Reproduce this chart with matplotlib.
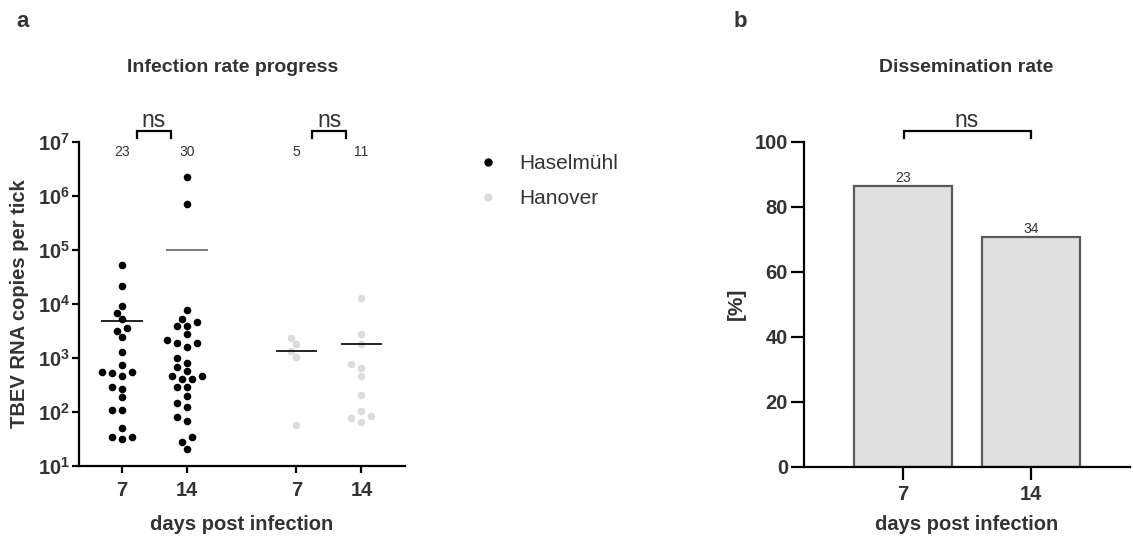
import numpy as np
import matplotlib
matplotlib.use("Agg")
import matplotlib.pyplot as plt
from matplotlib.lines import Line2D
from matplotlib.ticker import FuncFormatter, NullLocator

plt.rcParams["font.family"] = "Liberation Sans"
plt.rcParams["mathtext.fontset"] = "custom"
plt.rcParams["mathtext.rm"] = "Liberation Sans"
plt.rcParams["mathtext.bf"] = "Liberation Sans:bold"

# --- data ---
day_labels = ["7", "14", "7", "14"]
groups = ["Haselmühl", "Hanover"]

hasel_d7 = [53000, 21000, 9100, 6900, 5300, 3500, 3200, 2400, 1260, 740,
            540, 540, 520, 465, 295, 265, 187, 110, 110, 50, 35, 35, 32]
hasel_d14 = [2200000, 710000, 7600, 5200, 4600, 3900, 3900, 2800, 2100, 1900,
             1900, 1580, 1000, 800, 675, 575, 465, 465, 405, 405, 295, 295,
             197, 145, 122, 82, 68, 35, 28, 21]
hanover_d7 = [2300, 1800, 1370, 1050, 57]
hanover_d14 = [13000, 2800, 1800, 780, 650, 465, 205, 105, 84, 76, 66]
n_tested = [23, 30, 5, 11]

dissem_days = ["7", "14"]
dissem_rate = [86.4, 70.7]
dissem_n = [23, 34]

TXT = "#333333"
BLACK_DOT = "#000000"
GREY_DOT = "#dcdcdc"
TICK_FS = 14.5
LABEL_FS = 14.5

fig = plt.figure(figsize=(11.33, 5.41), dpi=100)
W, H = 1133, 541


def px_axes(x0, y0, x1, y1):
    return fig.add_axes([x0 / W, 1 - y1 / H, (x1 - x0) / W, (y1 - y0) / H])


def swarm(ax, x0, vals, diam=7.6, step=5.0):
    vals = np.asarray(vals, dtype=float)
    pix = ax.transData.transform(np.column_stack([np.full(len(vals), x0), vals]))
    xc = pix[0, 0]
    ys = pix[:, 1]
    unit = ax.transData.transform((x0 + 1, vals[0]))[0] - xc
    cands = [0.0]
    for k in range(1, 15):
        cands += [-k * step, k * step]
    placed = []
    offs = np.zeros(len(vals))
    for i in np.argsort(ys):
        for c in cands:
            if all((c - px) ** 2 + (ys[i] - py) ** 2 >= diam ** 2 for px, py in placed):
                break
        placed.append((c, ys[i]))
        offs[i] = c
    return x0 + offs / unit


def style_axes(ax, ticklen):
    for s in ["top", "right"]:
        ax.spines[s].set_visible(False)
    for s in ["left", "bottom"]:
        ax.spines[s].set_linewidth(1.6)
    ax.tick_params(length=ticklen, width=1.6, labelsize=TICK_FS, labelcolor=TXT)
    for lab in ax.get_xticklabels() + ax.get_yticklabels():
        lab.set_fontweight("bold")


# ---------------- panel a ----------------
ax = px_axes(79, 141.7, 405, 466)
pos = [1, 2, 3.68, 4.68]
ax.set_xlim(0.34, 5.35)
ax.set_yscale("log")
ax.set_ylim(10, 1e7)
ax.set_yticks([10 ** k for k in range(1, 8)])
ax.yaxis.set_minor_locator(NullLocator())
ax.yaxis.set_major_formatter(FuncFormatter(lambda v, p: r"$\mathbf{10^{%d}}$" % round(np.log10(v))))
ax.set_xticks(pos)
ax.set_xticklabels(day_labels)
style_axes(ax, 5)
ax.tick_params(axis="y", pad=1.5)
ax.tick_params(axis="x", pad=6)

series = [hasel_d7, hasel_d14, hanover_d7, hanover_d14]
colors = [BLACK_DOT, BLACK_DOT, GREY_DOT, GREY_DOT]
mean_colors = ["black", "#666666", "black", "black"]
for x, vals, c, mc in zip(pos, series, colors, mean_colors):
    xs = swarm(ax, x, vals)
    ax.scatter(xs, vals, s=30, color=c, linewidths=0, zorder=3, clip_on=False)
    ax.hlines(np.mean(vals), x - 0.32, x + 0.32, color=mc, lw=1.2, zorder=4)

tr = ax.get_xaxis_transform()
for x, n in zip(pos, n_tested):
    ax.text(x, 0.968, str(n), transform=tr, ha="center", va="center", fontsize=10, color=TXT)

for xa, xb in [(1.23, 1.75), (3.92, 4.45)]:
    ax.plot([xa, xa, xb, xb], [1.011, 1.034, 1.034, 1.011], transform=tr,
            color="black", lw=1.6, clip_on=False, solid_joinstyle="miter")
    ax.text((xa + xb) / 2, 1.046, "ns", transform=tr, ha="center", va="baseline",
            fontsize=16.5, color=TXT)

ax.set_xlabel("days post infection", fontsize=LABEL_FS, fontweight="bold", color=TXT, va="center")
ax.xaxis.set_label_coords(0.5, -0.179)
ax.set_ylabel("TBEV RNA copies per tick", fontsize=LABEL_FS, fontweight="bold", color=TXT,
              va="center", ha="center")
ax.yaxis.set_label_coords(-0.184, 0.5)

handles = [Line2D([], [], marker="o", ls="", color=BLACK_DOT, markersize=5),
           Line2D([], [], marker="o", ls="", color=GREY_DOT, markersize=5)]
fig.legend(handles, groups, loc="upper left", bbox_to_anchor=(0.4215, 0.7153),
           frameon=False, fontsize=15, labelcolor=TXT, borderpad=0, borderaxespad=0,
           handlelength=1.0, handletextpad=1.0, labelspacing=0.79)

# ---------------- panel b ----------------
ax2 = px_axes(804, 141.7, 1130, 466.7)
ax2.set_xlim(-0.77, 1.77)
ax2.set_ylim(0, 100)
bars = ax2.bar([0, 1], dissem_rate, width=0.76, color="#dfe0df", edgecolor="#595959", lw=1.6)
ax2.bar_label(bars, labels=[str(n) for n in dissem_n], padding=1, fontsize=10, color=TXT)
ax2.set_xticks([0, 1])
ax2.set_xticklabels(dissem_days)
ax2.set_yticks(range(0, 101, 20))
style_axes(ax2, 9.5)
ax2.tick_params(axis="y", pad=2)
ax2.tick_params(axis="x", pad=4)

ax2.plot([0.01, 0.01, 1.0, 1.0], [101.1, 103.4, 103.4, 101.1], color="black", lw=1.6,
         clip_on=False, solid_joinstyle="miter")
ax2.text(0.5, 104.6, "ns", ha="center", va="baseline", fontsize=16.5, color=TXT)

ax2.set_xlabel("days post infection", fontsize=LABEL_FS, fontweight="bold", color=TXT, va="center")
ax2.xaxis.set_label_coords(0.5, -0.179)
ax2.set_ylabel("[%]", fontsize=15, fontweight="bold", color=TXT, va="center", ha="center")
ax2.yaxis.set_label_coords(-0.206, 0.5)

# titles and panel letters
fig.text(233 / W, 1 - 67 / H, "Infection rate progress", ha="center", va="center",
         fontsize=14, fontweight="bold", color=TXT)
fig.text(966 / W, 1 - 67 / H, "Dissemination rate", ha="center", va="center",
         fontsize=14, fontweight="bold", color=TXT)
fig.text(16 / W, 1 - 27 / H, "a", ha="left", va="baseline", fontsize=16,
         fontweight="bold", color=TXT)
fig.text(734 / W, 1 - 27 / H, "b", ha="left", va="baseline", fontsize=16,
         fontweight="bold", color=TXT)

fig.savefig("out.png", dpi=100)
